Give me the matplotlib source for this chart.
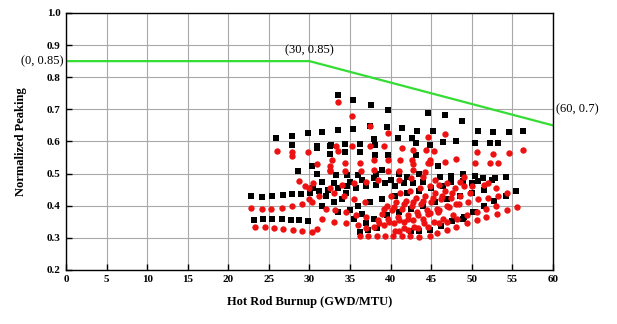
import matplotlib
matplotlib.use("Agg")
import matplotlib.pyplot as plt

# Limit line
limit_x = [0, 30, 60]
limit_y = [0.85, 0.85, 0.65]

# Black squares
black_x = [
    33.5, 35.4, 37.6, 39.7, 44.6, 46.7, 48.75,
    25.9, 27.8, 29.8, 31.6, 33.5, 35.4, 37.5, 39.5, 41.4, 43.3, 45.25, 50.8, 52.6, 54.6, 56.3,
    27.8, 30.9, 32.5, 32.7, 34.4, 36.2, 37.9, 38.1, 40.9, 42.6, 43.1, 44.8, 46.5, 48.1, 50.4, 52.2, 53.3,
    32.5, 34.4, 36.2, 38.1, 39.7, 43.1, 30.9,
    30.3, 30.9, 45.9, 28.6,
    33.3, 34.6, 36.0, 38.2, 46.1, 47.5, 48.9, 50.4, 51.4, 52.9, 54.2,
    47.5, 48.9, 50.0, 50.8, 52.5,
    22.8, 24.1, 25.4, 26.7, 27.9, 29.0, 30.1, 31.2, 32.3, 33.5, 34.6, 35.8, 37.0, 38.2, 39.3, 40.5, 41.6, 42.8, 44.0,
    23.2, 24.3, 25.4, 26.6, 27.7, 28.7, 29.8,
    36.5, 38.0, 40.0, 42.0, 43.5, 41.0, 39.0, 33.0, 35.0,
    44.8, 46.2, 47.6, 49.0, 50.4,
    36.2, 37.2, 38.3, 42.5, 43.5,
    48.9, 50.2, 51.5, 52.8, 54.2, 55.4,
    38.0, 39.5, 41.0, 42.5, 44.0, 45.5, 47.0, 48.5, 50.0, 51.5,
    36.0, 37.5, 39.0, 40.5, 42.0, 43.5, 45.0, 46.5,
    33.0, 34.0, 35.0, 36.5, 33.5, 31.5, 32.0, 34.5, 30.5, 31.5, 35.5, 37.0,
]
black_y = [
    0.745, 0.730, 0.714, 0.698, 0.688, 0.683, 0.665,
    0.610, 0.617, 0.625, 0.630, 0.636, 0.640, 0.649, 0.646, 0.641, 0.634, 0.631, 0.634, 0.629, 0.630, 0.634,
    0.589, 0.585, 0.585, 0.589, 0.591, 0.591, 0.608, 0.589, 0.610, 0.612, 0.594, 0.589, 0.597, 0.600, 0.594, 0.594, 0.594,
    0.560, 0.568, 0.568, 0.558, 0.558, 0.558, 0.580,
    0.523, 0.500, 0.522, 0.508,
    0.496, 0.496, 0.494, 0.499, 0.490, 0.493, 0.499, 0.493, 0.485, 0.485, 0.488,
    0.475, 0.477, 0.470, 0.478, 0.480,
    0.430, 0.428, 0.430, 0.432, 0.435, 0.437, 0.440, 0.445, 0.450, 0.455, 0.460, 0.455, 0.460, 0.465, 0.470, 0.460, 0.470, 0.470, 0.475,
    0.356, 0.357, 0.357, 0.357, 0.356, 0.355, 0.353,
    0.480, 0.485, 0.480, 0.490, 0.500, 0.500, 0.510, 0.470, 0.475,
    0.325, 0.338, 0.352, 0.366, 0.380,
    0.318, 0.325, 0.330, 0.320, 0.322,
    0.360, 0.380, 0.400, 0.415, 0.430, 0.447,
    0.360, 0.370, 0.380, 0.390, 0.400, 0.410, 0.420, 0.430, 0.440, 0.450,
    0.400, 0.410, 0.420, 0.430, 0.440, 0.445, 0.455, 0.460,
    0.410, 0.420, 0.385, 0.375, 0.380, 0.400, 0.430, 0.440, 0.455, 0.475, 0.360, 0.345,
]

# Red circles
red_x = [
    33.55, 35.3, 37.45, 39.7, 44.6, 46.7, 45.3,
    25.96, 27.8, 27.8, 29.8, 33.5, 30.9, 32.5, 32.5,
    33.3, 35.3, 37.5, 39.2, 41.4, 42.8, 44.4,
    50.7, 52.6, 54.6, 56.3,
    32.8, 34.4, 36.2, 37.9, 39.7, 41.2, 42.6, 44.8, 44.8, 42.8,
    46.7, 48.1, 50.4, 52.2, 53.3, 44.6,
    32.5, 34.4, 36.4, 37.9, 39.7, 41.1, 42.8, 44.3,
    28.7, 29.5, 30.5,
    22.8, 24.1, 25.3, 26.6, 27.9, 29.1, 30.3,
    23.3, 24.5, 25.6, 26.8, 28.0, 29.1, 30.3, 30.9,
    36.2, 37.2, 38.3, 39.3, 40.3, 41.4, 42.4, 43.5,
    38.0, 39.2, 40.4, 41.6, 42.8, 44.0,
    38.5, 39.7, 40.9, 42.1, 43.3, 44.5, 45.7, 46.9, 48.1,
    39.0, 40.2, 41.4, 42.6, 43.8, 45.0, 46.2, 47.4, 48.6, 49.8,
    39.5, 40.7, 41.9, 43.1, 44.3, 45.5, 46.7, 47.9, 49.1,
    40.0, 41.2, 42.4, 43.6, 44.8, 46.0,
    40.5, 41.7, 42.9, 44.1, 45.3, 46.5, 47.7,
    44.8, 46.0, 47.2, 48.4, 49.6, 50.8, 52.0, 53.2, 54.3,
    44.8, 45.7, 46.9, 48.1, 49.4, 50.6, 51.8, 53.1, 54.3, 55.6,
    33.0, 34.2, 35.5, 36.8, 32.0, 33.2, 34.5, 35.8, 37.0, 31.5, 33.0, 34.5, 36.0, 37.0,
    30.0, 31.2, 32.5, 34.0, 35.5, 37.0, 38.5, 30.0,
    41.0, 42.5, 44.0, 45.5, 47.0, 48.5, 50.0, 51.5, 53.0, 49.0, 52.0,
    38.6, 39.8, 41.0, 42.2, 43.4, 44.6, 45.8,
    39.2, 40.4, 41.6, 42.8, 44.0, 45.2, 46.4, 47.6,
    41.0, 42.2, 43.4, 44.6, 46.0,
    47.0, 48.2, 49.4, 50.6, 51.8, 53.0,
]
red_y = [
    0.722, 0.680, 0.649, 0.625, 0.615, 0.623, 0.571,
    0.571, 0.566, 0.555, 0.566, 0.570, 0.530, 0.525, 0.510,
    0.585, 0.585, 0.585, 0.585, 0.578, 0.574, 0.574,
    0.568, 0.561, 0.565, 0.573,
    0.542, 0.532, 0.532, 0.542, 0.542, 0.542, 0.542, 0.542, 0.532, 0.530,
    0.537, 0.545, 0.533, 0.533, 0.533, 0.533,
    0.508, 0.508, 0.508, 0.510, 0.508, 0.508, 0.510, 0.505,
    0.477, 0.460, 0.470,
    0.392, 0.390, 0.390, 0.392, 0.400, 0.405, 0.410,
    0.335, 0.332, 0.330, 0.328, 0.325, 0.322, 0.318, 0.328,
    0.305, 0.305, 0.305, 0.305, 0.305, 0.305, 0.305, 0.303,
    0.335, 0.340, 0.345, 0.350, 0.355, 0.360,
    0.355, 0.360, 0.365, 0.370, 0.380, 0.385, 0.390, 0.400, 0.405,
    0.375, 0.385, 0.390, 0.400, 0.405, 0.410, 0.420, 0.425, 0.430, 0.440,
    0.400, 0.410, 0.415, 0.425, 0.430, 0.440, 0.445, 0.455, 0.460,
    0.430, 0.440, 0.445, 0.455, 0.460, 0.465,
    0.320, 0.330, 0.335, 0.345, 0.350, 0.360, 0.370,
    0.376, 0.385, 0.395, 0.405, 0.410, 0.420, 0.425, 0.430, 0.440,
    0.305, 0.315, 0.325, 0.335, 0.345, 0.355, 0.365, 0.375, 0.385, 0.395,
    0.440, 0.430, 0.420, 0.410, 0.390, 0.385, 0.380, 0.370, 0.365, 0.360, 0.350, 0.345, 0.340, 0.330,
    0.420, 0.430, 0.455, 0.465, 0.470, 0.475, 0.480, 0.455,
    0.480, 0.485, 0.490, 0.480, 0.470, 0.475, 0.460, 0.465, 0.455, 0.490, 0.470,
    0.345, 0.350, 0.355, 0.360, 0.370, 0.375, 0.380,
    0.390, 0.395, 0.405, 0.410, 0.415, 0.425, 0.430, 0.440,
    0.320, 0.325, 0.330, 0.335, 0.345,
    0.350, 0.360, 0.370, 0.380, 0.390, 0.400,
]

x_ticks = list(range(0, 61, 5))
y_ticks = [0.2, 0.3, 0.4, 0.5, 0.6, 0.7, 0.8, 0.9, 1.0]

serif = ["Liberation Serif", "DejaVu Serif"]

fig = plt.figure(figsize=(6.17, 3.24), dpi=100)
ax = fig.add_axes([0.107, 0.167, 0.789, 0.793])

ax.plot(limit_x, limit_y, color="#33dd33", lw=1.6, zorder=2)
ax.scatter(black_x, black_y, marker="s", s=17, color="black", linewidths=0, zorder=3)
ax.scatter(red_x, red_y, marker="o", s=21, color="#ee1111", linewidths=0, zorder=4)

ax.set_xlim(0, 60)
ax.set_ylim(0.2, 1.0)
ax.set_xticks(x_ticks)
ax.set_yticks(y_ticks)
ax.set_xticklabels([str(t) for t in x_ticks], fontfamily=serif, fontweight="bold", fontsize=8)
ax.set_yticklabels([f"{t:.1f}" for t in y_ticks], fontfamily=serif, fontweight="bold", fontsize=8)
ax.tick_params(direction="in", length=4, width=1, pad=4, color="black")
ax.grid(True, color="#a8a8a8", lw=0.8)
ax.set_axisbelow(True)
for sp in ax.spines.values():
    sp.set_color("black")
    sp.set_linewidth(1.0)

ax.set_xlabel("Hot Rod Burnup (GWD/MTU)", fontfamily=serif, fontweight="bold", fontsize=9, labelpad=8)
ax.set_ylabel("Normalized Peaking", fontfamily=serif, fontweight="bold", fontsize=9, labelpad=14)

ax.text(-0.3, 0.85, "(0, 0.85)", ha="right", va="center", fontfamily=serif, fontsize=9, clip_on=False)
ax.text(30, 0.865, "(30, 0.85)", ha="center", va="bottom", fontfamily=serif, fontsize=9)
ax.text(60.4, 0.70, "(60, 0.7)", ha="left", va="center", fontfamily=serif, fontsize=9, clip_on=False)

fig.savefig("out.png", dpi=100)
